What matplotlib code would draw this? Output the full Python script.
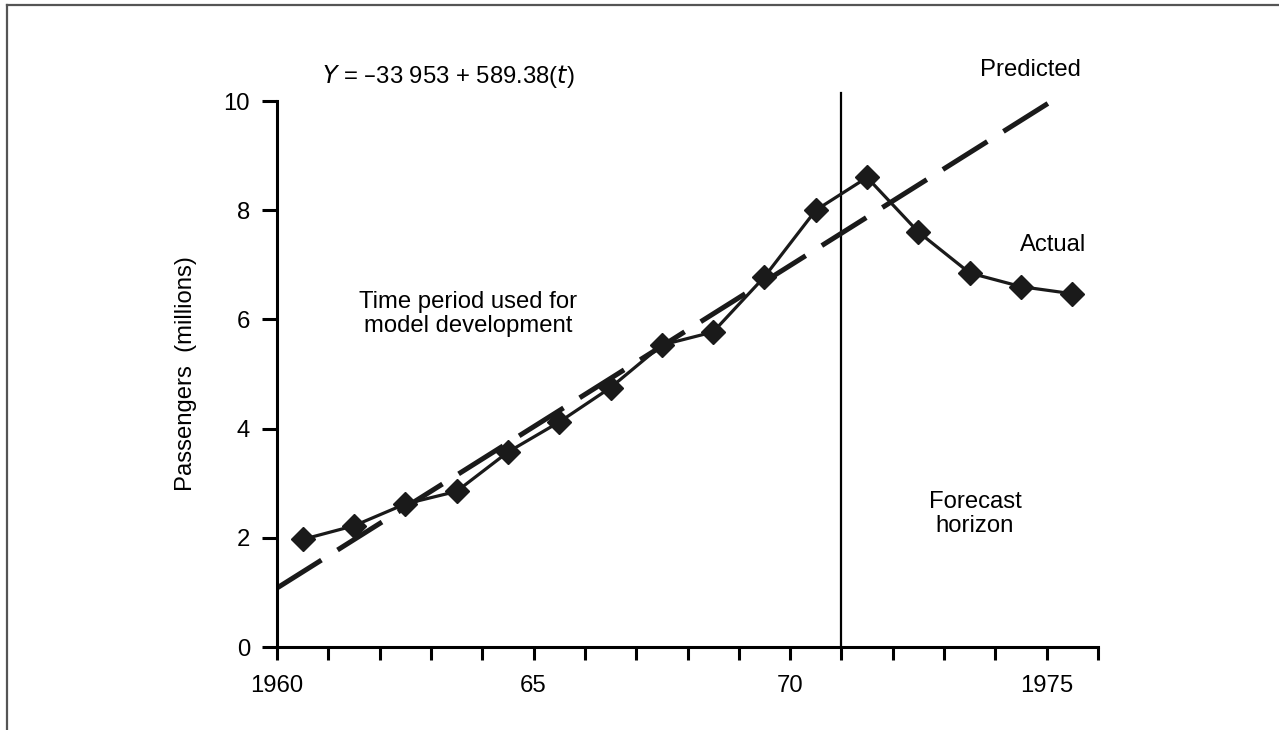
import matplotlib
matplotlib.use("Agg")
import matplotlib.pyplot as plt
from matplotlib.lines import Line2D

plt.rcParams['font.family'] = ['Liberation Sans', 'DejaVu Sans']

# Data
actual_years = [1960.5, 1961.5, 1962.5, 1963.5, 1964.5, 1965.5, 1966.5, 1967.5,
                1968.5, 1969.5, 1970.5, 1971.5, 1972.5, 1973.5, 1974.5, 1975.5]
actual_vals = [1.97, 2.22, 2.62, 2.85, 3.57, 4.12, 4.75, 5.53,
               5.77, 6.78, 8.0, 8.6, 7.6, 6.85, 6.6, 6.47]
pred_years = [1960.0, 1975.1]
pred_vals = [1.08, 10.0]
split_year = 1971
xtick_pos = list(range(1960, 1977))
xtick_labels = {1960: "1960", 1965: "65", 1970: "70", 1975: "1975"}
ytick_pos = [0, 2, 4, 6, 8, 10]

fig = plt.figure(figsize=(12.79, 7.30), dpi=100)
ax = fig.add_axes([277/1279, 1-647/730, (1098-277)/1279, (647-101)/730])

FS = 17.2
lw_spine = 2.2

ax.plot(pred_years, pred_vals, color='#1a1a1a', lw=3.6, dashes=(10.5, 3.8),
        dash_capstyle='butt', zorder=2)
ax.plot(actual_years, actual_vals, color='#1a1a1a', lw=2.3, marker='D',
        markersize=12, zorder=3)
ax.plot([split_year, split_year], [0, 10.15], color='black', lw=1.6,
        clip_on=False, zorder=1)

ax.set_xlim(1960, 1976)
ax.set_ylim(0, 10)
ax.set_xticks(xtick_pos)
ax.set_xticklabels([xtick_labels.get(p, "") for p in xtick_pos])
ax.set_yticks(ytick_pos)
ax.set_yticklabels([str(v) for v in ytick_pos])

for s in ['top', 'right']:
    ax.spines[s].set_visible(False)
for s in ['left', 'bottom']:
    ax.spines[s].set_linewidth(lw_spine)
    ax.spines[s].set_color('black')

ax.tick_params(axis='x', direction='out', length=9.5, width=lw_spine,
               pad=11, labelsize=FS)
ax.tick_params(axis='y', direction='out', length=10.5, width=lw_spine,
               pad=9, labelsize=FS)

ax.set_ylabel("Passengers  (millions)", fontsize=FS, labelpad=19)

def fx(px):
    return px / 1279
def fy(py):
    return 1 - py / 730

fig.text(fx(448), fy(77), r"$\it{Y}$ = –33 953 + 589.38($\it{t}$)", fontsize=FS,
         ha='center', va='center')
fig.text(fx(1030), fy(70), "Predicted", fontsize=FS, ha='center', va='center')
fig.text(fx(1053), fy(245), "Actual", fontsize=FS, ha='center', va='center')
fig.text(fx(468), fy(314), "Time period used for\nmodel development", fontsize=FS,
         ha='center', va='center', linespacing=1.15)
fig.text(fx(975), fy(514), "Forecast\nhorizon", fontsize=FS,
         ha='center', va='center', linespacing=1.15)

# frame
fig.add_artist(Line2D([fx(7), 1.0], [fy(5), fy(5)], color='#555555', lw=1.6))
fig.add_artist(Line2D([fx(7), fx(7)], [fy(5), 0.0], color='#555555', lw=1.6))

fig.savefig("out.png", dpi=100, facecolor='white')
